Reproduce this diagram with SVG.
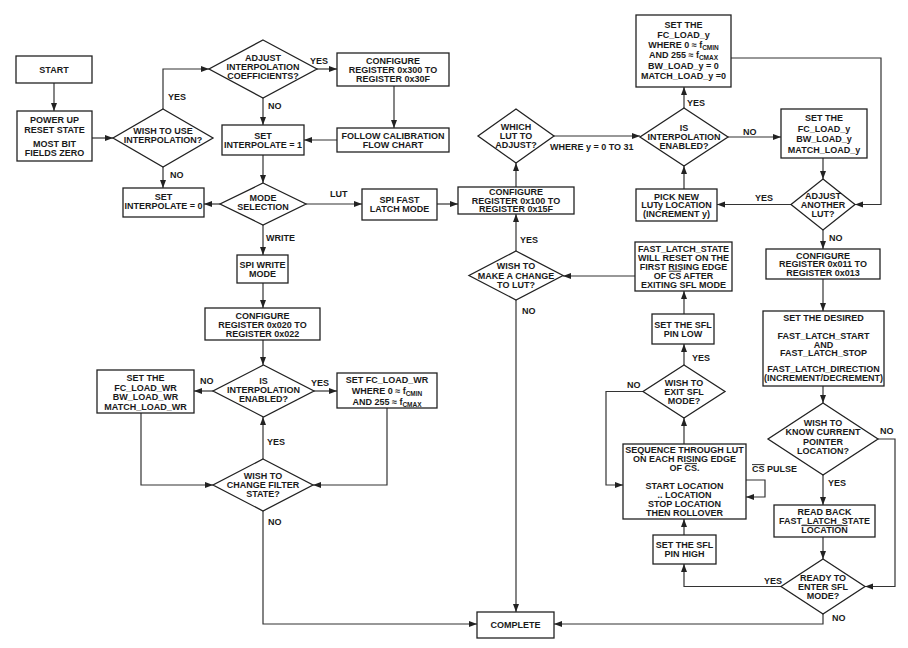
<svg xmlns="http://www.w3.org/2000/svg" width="908" height="648" viewBox="0 0 908 648">
<defs>
<marker id="ah" markerUnits="userSpaceOnUse" markerWidth="9" markerHeight="7" refX="8" refY="3" orient="auto">
<path d="M0,0 L8,3 L0,6 z" fill="#222"/>
</marker>
<style>
.n rect,.n polygon{fill:#fff;stroke:#222;stroke-width:1.3}
.n text,.lb{font-family:"Liberation Sans",Arial,sans-serif;font-weight:bold;font-size:9px;fill:#1a1a1a}
.n text{text-anchor:middle}
.sub{font-size:6.5px}
.ov{text-decoration:overline}
#conn path{fill:none;stroke:#333;stroke-width:1.2;marker-end:url(#ah)}
</style>
</defs>
<rect width="908" height="648" fill="#fff"/>
<g id="conn">
<path d="M54,83 V111"/>
<path d="M92,138 H113"/>
<path d="M163,109 V69 H209"/>
<path d="M163,167 V188"/>
<path d="M317,69 H337"/>
<path d="M263,98 V125"/>
<path d="M394,86 V128"/>
<path d="M337,140 H304"/>
<path d="M263,155 V183"/>
<path d="M220,204 H204"/>
<path d="M306,204 H362"/>
<path d="M437,204 H458"/>
<path d="M516,187 V163"/>
<path d="M554,136 H640"/>
<path d="M684,108 V87"/>
<path d="M728,137 H781"/>
<path d="M731,58 H881 V204.5 H855"/>
<path d="M823,158 V179"/>
<path d="M791,204.5 H717"/>
<path d="M823,230 V249"/>
<path d="M684,189 V166"/>
<path d="M823,279 V311"/>
<path d="M823,386 V403"/>
<path d="M878,439 H895 V586.5 H865"/>
<path d="M823,475 V505"/>
<path d="M823,537 V559"/>
<path d="M781,586.5 H684 V564"/>
<path d="M823,614 V624 H554"/>
<path d="M684,535 V519"/>
<path d="M684,444 V418"/>
<path d="M746,480 H765 V497 H746"/>
<path d="M643,391.5 H606 V485 H623"/>
<path d="M684,365 V344"/>
<path d="M684,314 V291"/>
<path d="M635,276 H563"/>
<path d="M516,251 V214"/>
<path d="M516,300 V612"/>
<path d="M263,225 V255"/>
<path d="M263,283 V308"/>
<path d="M263,340 V365"/>
<path d="M213,391 H194"/>
<path d="M314,391 H337"/>
<path d="M141,413 V485 H213"/>
<path d="M387,408 V485 H313"/>
<path d="M263,459 V417"/>
<path d="M263,511 V624 H477"/>
</g>
<g id="labels">
<text class="lb" x="168" y="100.2">YES</text>
<text class="lb" x="170" y="178.2">NO</text>
<text class="lb" x="310" y="63.9">YES</text>
<text class="lb" x="268" y="109.2">NO</text>
<text class="lb" x="330" y="197.2">LUT</text>
<text class="lb" x="266" y="241.2">WRITE</text>
<text class="lb" x="520" y="243.2">YES</text>
<text class="lb" x="522" y="314.2">NO</text>
<text class="lb" x="550" y="150.2">WHERE y = 0 TO 31</text>
<text class="lb" x="687" y="106.2">YES</text>
<text class="lb" x="743" y="135.2">NO</text>
<text class="lb" x="755" y="201.2">YES</text>
<text class="lb" x="829" y="241.2">NO</text>
<text class="lb" x="880" y="434.2">NO</text>
<text class="lb" x="828" y="486.2">YES</text>
<text class="lb" x="764" y="584.2">YES</text>
<text class="lb" x="832" y="621.2">NO</text>
<text class="lb" x="752" y="472.2"><tspan class="ov">CS</tspan> PULSE</text>
<text class="lb" x="627" y="388.2">NO</text>
<text class="lb" x="692" y="361.2">YES</text>
<text class="lb" x="200" y="384.2">NO</text>
<text class="lb" x="311" y="386.2">YES</text>
<text class="lb" x="267" y="445.2">YES</text>
<text class="lb" x="268" y="525.2">NO</text>
</g>
<g id="start" class="n"><rect x="16" y="56" width="76" height="27"/><text x="54" y="72.7">START</text></g>
<g id="powerup" class="n"><rect x="17" y="111" width="75" height="50"/>
<text x="54.5" y="123.2">POWER UP</text><text x="54.5" y="132.5">RESET STATE</text><text x="54.5" y="147.2">MOST BIT</text><text x="54.5" y="155.9">FIELDS ZERO</text></g>
<g id="wishuse" class="n"><polygon points="163,109 213,138 163,167 113,138"/>
<text x="163" y="134.4">WISH TO USE</text><text x="163" y="143.4">INTERPOLATION?</text></g>
<g id="setinterp0" class="n"><rect x="123" y="188" width="81" height="29"/>
<text x="163.5" y="200.2">SET</text><text x="163.5" y="209.2">INTERPOLATE = 0</text></g>
<g id="adjustcoef" class="n"><polygon points="263,40 317,69 263,98 209,69"/>
<text x="263" y="61.2">ADJUST</text><text x="263" y="70.2">INTERPOLATION</text><text x="263" y="79.2">COEFFICIENTS?</text></g>
<g id="conf300" class="n"><rect x="337" y="53" width="112" height="33"/>
<text x="393" y="63.9">CONFIGURE</text><text x="393" y="72.7">REGISTER 0x300 TO</text><text x="393" y="81.5">REGISTER 0x30F</text></g>
<g id="follow" class="n"><rect x="337" y="128" width="112" height="24"/>
<text x="393" y="138.7">FOLLOW CALIBRATION</text><text x="393" y="147.7">FLOW CHART</text></g>
<g id="setinterp1" class="n"><rect x="222" y="125" width="82" height="30"/>
<text x="263" y="138.7">SET</text><text x="263" y="147.7">INTERPOLATE = 1</text></g>
<g id="mode" class="n"><polygon points="263,183 306,204 263,225 220,204"/>
<text x="263" y="201.2">MODE</text><text x="263" y="210.2">SELECTION</text></g>
<g id="spifast" class="n"><rect x="362" y="189" width="75" height="31"/>
<text x="399.5" y="203.2">SPI FAST</text><text x="399.5" y="212.2">LATCH MODE</text></g>
<g id="conf100" class="n"><rect x="458" y="187" width="116" height="27"/>
<text x="516" y="195.4">CONFIGURE</text><text x="516" y="203.9">REGISTER 0x100 TO</text><text x="516" y="212.4">REGISTER 0x15F</text></g>
<g id="whichlut" class="n"><polygon points="516,109 554,136 516,163 478,136"/>
<text x="516" y="130.2">WHICH</text><text x="516" y="139.2">LUT TO</text><text x="516" y="148.2">ADJUST?</text></g>
<g id="isinterpR" class="n"><polygon points="684,108 728,137 684,166 640,137"/>
<text x="684" y="130.7">IS</text><text x="684" y="140.2">INTERPOLATION</text><text x="684" y="149.2">ENABLED?</text></g>
<g id="setfcy0" class="n"><rect x="636" y="15" width="95" height="72"/>
<text x="683.5" y="27.7">SET THE</text><text x="683.5" y="37.9">FC_LOAD_y</text>
<text x="683.5" y="48.1">WHERE 0 ≈ f<tspan class="sub" dy="2">CMIN</tspan></text>
<text x="683.5" y="58.3">AND 255 ≈ f<tspan class="sub" dy="2">CMAX</tspan></text>
<text x="683.5" y="68.5">BW_LOAD_y = 0</text><text x="683.5" y="78.7">MATCH_LOAD_y =0</text></g>
<g id="picknew" class="n"><rect x="636" y="189" width="81" height="32"/>
<text x="676.5" y="199.7">PICK NEW</text><text x="676.5" y="208.2">LUTy LOCATION</text><text x="676.5" y="216.7">(INCREMENT y)</text></g>
<g id="setfcy" class="n"><rect x="781" y="109" width="86" height="49"/>
<text x="824" y="121">SET THE</text><text x="824" y="131.5">FC_LOAD_y</text><text x="824" y="142">BW_LOAD_y</text><text x="824" y="152.5">MATCH_LOAD_y</text></g>
<g id="adjanother" class="n"><polygon points="823,179 855,204.5 823,230 791,204.5"/>
<text x="823" y="199.2">ADJUST</text><text x="823" y="208.2">ANOTHER</text><text x="823" y="217.2">LUT?</text></g>
<g id="conf011" class="n"><rect x="766" y="249" width="114" height="30"/>
<text x="823" y="258.7">CONFIGURE</text><text x="823" y="267.2">REGISTER 0x011 TO</text><text x="823" y="275.7">REGISTER 0x013</text></g>
<g id="setdesired" class="n"><rect x="763" y="311" width="121" height="75"/>
<text x="823.5" y="321">SET THE DESIRED</text>
<text x="823.5" y="339">FAST_LATCH_START</text><text x="823.5" y="347.5">AND</text><text x="823.5" y="356">FAST_LATCH_STOP</text>
<text x="823.5" y="372">FAST_LATCH_DIRECTION</text><text x="823.5" y="381">(INCREMENT/DECREMENT)</text></g>
<g id="wishknow" class="n"><polygon points="823,403 878,439 823,475 768,439"/>
<text x="823" y="425.5">WISH TO</text><text x="823" y="435">KNOW CURRENT</text><text x="823" y="444.5">POINTER</text><text x="823" y="454">LOCATION?</text></g>
<g id="readback" class="n"><rect x="774" y="505" width="101" height="32"/>
<text x="824.5" y="515.2">READ BACK</text><text x="824.5" y="524.2">FAST_LATCH_STATE</text><text x="824.5" y="533.2"><tspan class="ov">LOCATION</tspan></text></g>
<g id="ready" class="n"><polygon points="823,559 865,586.5 823,614 781,586.5"/>
<text x="823" y="581.2">READY TO</text><text x="823" y="590.2">ENTER SFL</text><text x="823" y="599.2">MODE?</text></g>
<g id="sflhigh" class="n"><rect x="653" y="535" width="63" height="29"/>
<text x="684.5" y="548.2">SET THE SFL</text><text x="684.5" y="557.2">PIN HIGH</text></g>
<g id="sequence" class="n"><rect x="623" y="444" width="123" height="75"/>
<text x="684.5" y="453.2">SEQUENCE THROUGH LUT</text><text x="684.5" y="462.2">ON EACH RISING EDGE</text>
<text x="684.5" y="471.2">OF <tspan class="ov">CS</tspan>.</text>
<text x="684.5" y="489.2">START LOCATION</text><text x="684.5" y="498.2">.. LOCATION</text>
<text x="684.5" y="507.2">STOP LOCATION</text><text x="684.5" y="516.2">THEN ROLLOVER</text></g>
<g id="wishexit" class="n"><polygon points="684,365 725,391.5 684,418 643,391.5"/>
<text x="684" y="386.2">WISH TO</text><text x="684" y="395.2">EXIT SFL</text><text x="684" y="404.2">MODE?</text></g>
<g id="sfllow" class="n"><rect x="652" y="314" width="62" height="30"/>
<text x="683" y="327.7">SET THE SFL</text><text x="683" y="336.7">PIN LOW</text></g>
<g id="fastlatch" class="n"><rect x="635" y="242" width="97" height="49"/>
<text x="683.5" y="251.7">FAST_LATCH_STATE</text><text x="683.5" y="260.7">WILL RESET ON THE</text>
<text x="683.5" y="269.7">FIRST RISING EDGE</text><text x="683.5" y="278.7">OF <tspan class="ov">CS</tspan> AFTER</text>
<text x="683.5" y="287.7">EXITING SFL MODE</text></g>
<g id="wishmake" class="n"><polygon points="516,251 563,275.5 516,300 469,275.5"/>
<text x="516" y="269.2">WISH TO</text><text x="516" y="278.7">MAKE A CHANGE</text><text x="516" y="288.2">TO LUT?</text></g>
<g id="spiwrite" class="n"><rect x="237" y="255" width="51" height="28"/>
<text x="262.5" y="267.7">SPI WRITE</text><text x="262.5" y="276.7">MODE</text></g>
<g id="conf020" class="n"><rect x="205" y="308" width="115" height="32"/>
<text x="262.5" y="318.7">CONFIGURE</text><text x="262.5" y="327.7">REGISTER 0x020 TO</text><text x="262.5" y="336.7">REGISTER 0x022</text></g>
<g id="isinterpL" class="n"><polygon points="263.5,365 314,391 263.5,417 213,391"/>
<text x="263.5" y="383.7">IS</text><text x="263.5" y="392.7">INTERPOLATION</text><text x="263.5" y="401.7">ENABLED?</text></g>
<g id="setfcwr" class="n"><rect x="97" y="370" width="97" height="43"/>
<text x="145.5" y="380.7">SET THE</text><text x="145.5" y="390.5">FC_LOAD_WR</text><text x="145.5" y="400.2">BW_LOAD_WR</text><text x="145.5" y="409.9">MATCH_LOAD_WR</text></g>
<g id="setfcwrwhere" class="n"><rect x="337" y="373" width="100" height="35"/>
<text x="387" y="383.2">SET FC_LOAD_WR</text>
<text x="387" y="394.2">WHERE 0 ≈ f<tspan class="sub" dy="2">CMIN</tspan></text>
<text x="387" y="405">AND 255 ≈ f<tspan class="sub" dy="2">CMAX</tspan></text></g>
<g id="wishchange" class="n"><polygon points="263,459 313,485 263,511 213,485"/>
<text x="263" y="479.2">WISH TO</text><text x="263" y="488.2">CHANGE FILTER</text><text x="263" y="497.2">STATE?</text></g>
<g id="complete" class="n"><rect x="477" y="612" width="77" height="26"/><text x="515.5" y="628.2">COMPLETE</text></g>
</svg>
